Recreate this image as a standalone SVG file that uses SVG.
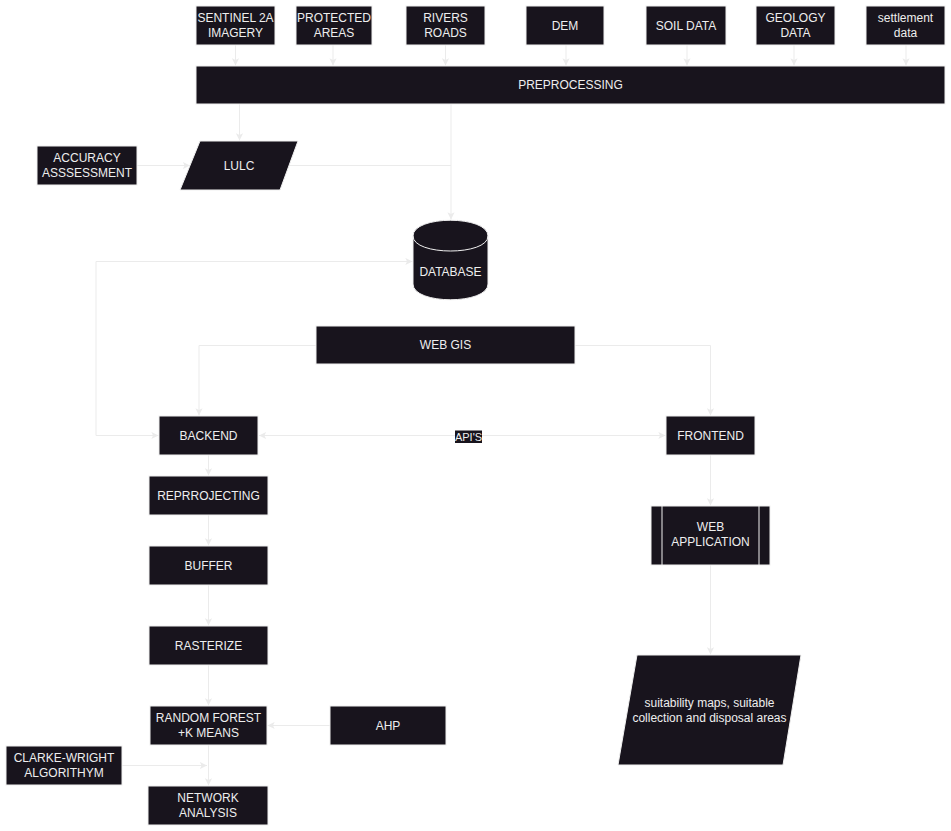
<svg xmlns="http://www.w3.org/2000/svg" width="951" height="831" viewBox="0 0 951 831">
  <defs>
    <style>
      .box { fill: #18141D; stroke: #F0F0F0; stroke-width: 1; }
      .lbl { fill: #EEEEEE; font-family: "Liberation Sans", Arial, Helvetica, sans-serif; font-size: 12px; text-anchor: middle; }
      .edge { fill: none; stroke: #EBEBEB; stroke-width: 1; }
      .inner { fill: none; stroke: #F0F0F0; stroke-width: 1; }
    </style>
    <marker id="arrow" viewBox="0 0 10 10" refX="9" refY="5" markerWidth="8" markerHeight="8" markerUnits="userSpaceOnUse" orient="auto-start-reverse">
      <path d="M0,0.5 L9,5 L0,9.5 L2.2,5 Z" fill="#EBEBEB"/>
    </marker>
  </defs>
  <rect width="951" height="831" fill="#FFFFFF"/>

  <!-- connectors -->
  <g id="connectors">
    <!-- data sources into preprocessing -->
    <path class="edge" d="M235.5,45 V65.5" marker-end="url(#arrow)"/>
    <path class="edge" d="M333,45 V65.5" marker-end="url(#arrow)"/>
    <path class="edge" d="M445.5,45 V65.5" marker-end="url(#arrow)"/>
    <path class="edge" d="M566,45 V65.5" marker-end="url(#arrow)"/>
    <path class="edge" d="M687,45 V65.5" marker-end="url(#arrow)"/>
    <path class="edge" d="M794,45 V65.5" marker-end="url(#arrow)"/>
    <path class="edge" d="M906,45 V65.5" marker-end="url(#arrow)"/>
    <!-- preprocessing to LULC -->
    <path class="edge" d="M239.5,104 V140.5" marker-end="url(#arrow)"/>
    <!-- accuracy assessment to LULC -->
    <path class="edge" d="M137,165.5 H190" marker-end="url(#arrow)"/>
    <!-- LULC and preprocessing to database -->
    <path class="edge" d="M289,165.5 H451"/>
    <path class="edge" d="M451,104 V219.5" marker-end="url(#arrow)"/>
    <!-- database <-> backend -->
    <path class="edge" d="M158.5,435.5 H96 V261.5 H412.5" marker-start="url(#arrow)" marker-end="url(#arrow)"/>
    <!-- web gis branches -->
    <path class="edge" d="M316,345.5 H199 V415.5" marker-end="url(#arrow)"/>
    <path class="edge" d="M575,345.5 H710.5 V415.5" marker-end="url(#arrow)"/>
    <!-- backend <-> frontend -->
    <path class="edge" d="M259,435.5 H665.5" marker-start="url(#arrow)" marker-end="url(#arrow)"/>
    <!-- processing chain -->
    <path class="edge" d="M208.5,455 V475.5" marker-end="url(#arrow)"/>
    <path class="edge" d="M208.5,515 V545.5" marker-end="url(#arrow)"/>
    <path class="edge" d="M208.5,585 V625.5" marker-end="url(#arrow)"/>
    <path class="edge" d="M208.5,665 V705.5" marker-end="url(#arrow)"/>
    <path class="edge" d="M208.5,745 V785.5" marker-end="url(#arrow)"/>
    <path class="edge" d="M330,725.5 H267.5" marker-end="url(#arrow)"/>
    <path class="edge" d="M122,765.5 H207" marker-end="url(#arrow)"/>
    <!-- frontend chain -->
    <path class="edge" d="M710.5,455 V505.5" marker-end="url(#arrow)"/>
    <path class="edge" d="M710.5,565 V654.5" marker-end="url(#arrow)"/>
    <!-- API label -->
    <rect x="455" y="430.5" width="27" height="12.5" fill="#18141D"/>
    <text class="lbl" x="468.5" y="441" style="font-size:11px">API'S</text>
  </g>

  <!-- data sources -->
  <g id="sentinel">
    <rect class="box" x="196" y="6" width="79" height="39"/>
    <text class="lbl" x="235.5" y="22">SENTINEL 2A</text>
    <text class="lbl" x="235.5" y="37">IMAGERY</text>
  </g>
  <g id="protected">
    <rect class="box" x="296" y="6" width="76" height="39"/>
    <text class="lbl" x="334" y="22">PROTECTED</text>
    <text class="lbl" x="334" y="37">AREAS</text>
  </g>
  <g id="rivers">
    <rect class="box" x="406" y="6" width="79" height="39"/>
    <text class="lbl" x="445.5" y="22">RIVERS</text>
    <text class="lbl" x="445.5" y="37">ROADS</text>
  </g>
  <g id="dem">
    <rect class="box" x="526" y="6" width="78" height="39"/>
    <text class="lbl" x="565" y="29.5">DEM</text>
  </g>
  <g id="soil">
    <rect class="box" x="646" y="6" width="80" height="39"/>
    <text class="lbl" x="686" y="29.5">SOIL DATA</text>
  </g>
  <g id="geology">
    <rect class="box" x="756" y="6" width="79" height="39"/>
    <text class="lbl" x="795.5" y="22">GEOLOGY</text>
    <text class="lbl" x="795.5" y="37">DATA</text>
  </g>
  <g id="settlement">
    <rect class="box" x="866" y="6" width="79" height="39"/>
    <text class="lbl" x="905.5" y="22">settlement</text>
    <text class="lbl" x="905.5" y="37">data</text>
  </g>

  <g id="preprocessing">
    <rect class="box" x="196" y="66" width="749" height="38"/>
    <text class="lbl" x="570.5" y="89">PREPROCESSING</text>
  </g>

  <g id="accuracy">
    <rect class="box" x="37" y="146" width="100" height="39"/>
    <text class="lbl" x="87" y="162">ACCURACY</text>
    <text class="lbl" x="87" y="177">ASSSESSMENT</text>
  </g>
  <g id="lulc">
    <polygon class="box" points="200,141 298,141 280,190 180,190"/>
    <text class="lbl" x="239" y="169.5">LULC</text>
  </g>

  <g id="database">
    <path class="box" d="M413,236 C413,215 488,215 488,236 L488,284 C488,305 413,305 413,284 Z"/>
    <path class="inner" d="M413,236 C413,256 488,256 488,236"/>
    <text class="lbl" x="450.5" y="276">DATABASE</text>
  </g>

  <g id="webgis">
    <rect class="box" x="316" y="326" width="259" height="38"/>
    <text class="lbl" x="445.5" y="349">WEB GIS</text>
  </g>

  <g id="backend">
    <rect class="box" x="159" y="416" width="99" height="39"/>
    <text class="lbl" x="208.5" y="439.5">BACKEND</text>
  </g>
  <g id="frontend">
    <rect class="box" x="666" y="416" width="89" height="39"/>
    <text class="lbl" x="710.5" y="439.5">FRONTEND</text>
  </g>

  <g id="reprojecting">
    <rect class="box" x="149" y="476" width="119" height="39"/>
    <text class="lbl" x="208.5" y="499.5">REPRROJECTING</text>
  </g>
  <g id="buffer">
    <rect class="box" x="149" y="546" width="119" height="39"/>
    <text class="lbl" x="208.5" y="569.5">BUFFER</text>
  </g>
  <g id="rasterize">
    <rect class="box" x="149" y="626" width="119" height="39"/>
    <text class="lbl" x="208.5" y="649.5">RASTERIZE</text>
  </g>
  <g id="randomforest">
    <rect class="box" x="150" y="706" width="117" height="39"/>
    <text class="lbl" x="208.5" y="721.5">RANDOM FOREST</text>
    <text class="lbl" x="208.5" y="736.5">+K MEANS</text>
  </g>
  <g id="ahp">
    <rect class="box" x="330" y="706" width="116" height="39"/>
    <text class="lbl" x="388" y="729.5">AHP</text>
  </g>
  <g id="clarkewright">
    <rect class="box" x="6" y="746" width="116" height="39"/>
    <text class="lbl" x="64" y="761.5">CLARKE-WRIGHT</text>
    <text class="lbl" x="64" y="776.5">ALGORITHYM</text>
  </g>
  <g id="network">
    <rect class="box" x="148" y="786" width="120" height="39"/>
    <text class="lbl" x="208" y="801.5">NETWORK</text>
    <text class="lbl" x="208" y="816.5">ANALYSIS</text>
  </g>

  <g id="webapp">
    <rect class="box" x="651" y="506" width="119" height="59"/>
    <line class="inner" x1="662" y1="506" x2="662" y2="565"/>
    <line class="inner" x1="759" y1="506" x2="759" y2="565"/>
    <text class="lbl" x="710.5" y="531">WEB</text>
    <text class="lbl" x="710.5" y="546">APPLICATION</text>
  </g>

  <g id="output">
    <polygon class="box" points="637,655 801,655 783,765 618,765"/>
    <text class="lbl" x="709.5" y="707">suitability maps, suitable</text>
    <text class="lbl" x="709.5" y="722">collection and disposal areas</text>
  </g>
</svg>
